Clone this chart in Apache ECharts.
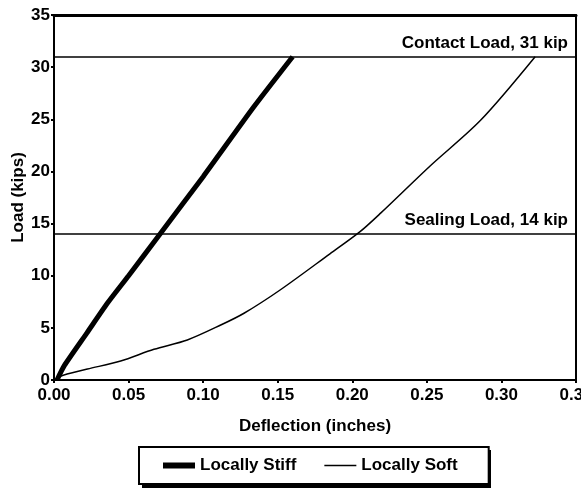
<!DOCTYPE html>
<html><head><meta charset="utf-8">
<script src="https://cdn.jsdelivr.net/npm/echarts@6/dist/echarts.min.js"></script>
<style>html,body{margin:0;padding:0;background:#fff}#c{width:581px;height:491px}</style>
</head><body><div id="c"></div>
<script>
const stiffX = [0.002, 0.007, 0.022, 0.036, 0.050, 0.0711, 0.100, 0.134, 0.160];
const stiffY = [0, 1.4, 4.5, 7.4, 10, 14, 19.5, 26.2, 31.0];
const softX = [0.002, 0.0067, 0.0224, 0.0447, 0.067, 0.0894, 0.1118, 0.1274, 0.1516, 0.185, 0.205, 0.219, 0.252, 0.286, 0.3226];
const softY = [0.2, 0.48, 1.05, 1.82, 2.94, 3.84, 5.27, 6.4, 8.63, 12.1, 14.2, 16.0, 20.5, 24.9, 31.0];
const seriesNames = ['Locally Stiff', 'Locally Soft'];
const refLines = [31, 14];
const refLabels = ['Contact Load, 31 kip', 'Sealing Load, 14 kip'];
const xTitle = 'Deflection (inches)';
const yTitle = 'Load (kips)';

const zip = (a, b) => a.map((v, i) => [v, b[i]]);
const font = 'Liberation Sans';
const fs = 17;
const txt = {fontFamily: font, fontWeight: 'bold', fontSize: fs, color: '#000'};
const chart = echarts.init(document.getElementById('c'), null, {renderer: 'canvas'});
chart.setOption({
  animation: false,
  backgroundColor: '#fff',
  textStyle: {fontFamily: font, fontWeight: 'bold', color: '#000'},
  grid: {left: 54, right: 5, top: 15, bottom: 111, containLabel: false, outerBoundsMode: 'none'},
  graphic: [{
    type: 'rect', z: 1, silent: true,
    shape: {x: 142, y: 450, width: 349, height: 38},
    style: {fill: '#000'}
  }],
  xAxis: [{
    type: 'value', min: 0, max: 0.35, interval: 0.05,
    name: xTitle, nameLocation: 'middle', nameGap: 38, nameMoveOverlap: false,
    nameTextStyle: txt,
    axisLine: {onZero: false, lineStyle: {color: '#000', width: 2}},
    axisTick: {show: true, length: 3, lineStyle: {color: '#000', width: 2}},
    axisLabel: Object.assign({}, txt, {margin: 7, formatter: v => v.toFixed(2), hideOverlap: false}),
    splitLine: {show: false}
  }, {
    type: 'value', position: 'top', min: 0, max: 0.35,
    axisLine: {show: true, onZero: false, lineStyle: {color: '#000', width: 3}},
    axisTick: {show: false}, axisLabel: {show: false}, splitLine: {show: false}
  }],
  yAxis: [{
    type: 'value', min: 0, max: 35, interval: 5,
    name: yTitle, nameLocation: 'middle', nameGap: 27, nameMoveOverlap: false,
    nameTextStyle: txt,
    axisLine: {show: true, onZero: false, lineStyle: {color: '#000', width: 2}},
    axisTick: {show: true, length: 3, lineStyle: {color: '#000', width: 2}},
    axisLabel: Object.assign({}, txt, {margin: 4}),
    splitLine: {show: false}
  }, {
    type: 'value', position: 'right', min: 0, max: 35,
    axisLine: {show: true, onZero: false, lineStyle: {color: '#000', width: 2}},
    axisTick: {show: false}, axisLabel: {show: false}, splitLine: {show: false}
  }],
  legend: {
    left: 139, top: 447, z: 4,
    data: [
      {name: seriesNames[0], icon: 'path://M0 0H32V6H0Z'},
      {name: seriesNames[1], icon: 'path://M0 0H32V1.6H0Z'}
    ],
    itemWidth: 32, itemHeight: 16, itemGap: 28,
    padding: [10, 31, 10, 24],
    borderColor: '#000', borderWidth: 2, backgroundColor: '#fff',
    textStyle: txt
  },
  series: [{
    name: seriesNames[0], type: 'line', data: zip(stiffX, stiffY),
    symbol: 'none', smooth: 0.2,
    lineStyle: {color: '#000', width: 5}, itemStyle: {color: '#000'},
    markLine: {
      silent: true, symbol: ['none', 'none'],
      lineStyle: {color: '#000', width: 1.5, type: 'solid'},
      label: Object.assign({}, txt, {position: 'insideEndTop', distance: [8, 5]}),
      data: refLines.map((v, i) => ({yAxis: v, label: {formatter: refLabels[i]}}))
    }
  }, {
    name: seriesNames[1], type: 'line', data: zip(softX, softY),
    symbol: 'none', smooth: 0.3,
    lineStyle: {color: '#000', width: 1.5}, itemStyle: {color: '#000'}
  }]
});
</script></body></html>
